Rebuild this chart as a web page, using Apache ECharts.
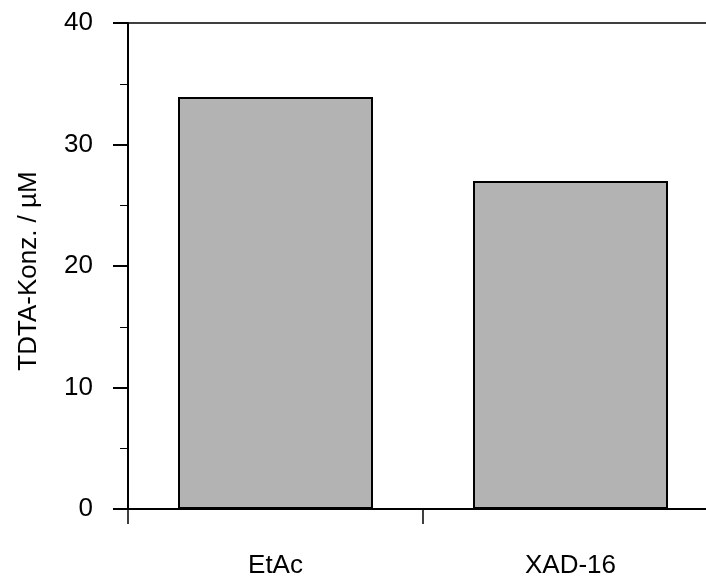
<!DOCTYPE html>
<html>
<head>
<meta charset="utf-8">
<script src="https://cdn.jsdelivr.net/npm/echarts@6/dist/echarts.min.js"></script>
<style>
  html, body { margin: 0; padding: 0; background: #fff; overflow: hidden; }
  /* the plot area runs slightly past the right edge of the window */
  #chart { width: 718px; height: 581px; }
</style>
</head>
<body>
<div id="chart"></div>
<script>
// Extraction methods and the measured TDTA concentration for each
const categories = ['EtAc', 'XAD-16'];
const concentrations = [33.9, 27.0];
const yAxisTitle = 'TDTA-Konz. / µM';

const FONT = 'Liberation Sans, Arial, sans-serif';
const chart = echarts.init(document.getElementById('chart'));

chart.setOption({
  animation: false,
  backgroundColor: '#ffffff',
  grid: { left: 128, right: 0, top: 23, bottom: 72 },
  xAxis: [
    {
      type: 'category',
      data: categories,
      position: 'bottom',
      boundaryGap: true,
      axisLine: { show: true, lineStyle: { color: '#000', width: 2 } },
      axisTick: { show: true, interval: 0, length: 15, lineStyle: { color: '#000', width: 1.5 } },
      axisLabel: { margin: 44, fontSize: 26, color: '#000', fontFamily: FONT },
      splitLine: { show: false }
    },
    {
      // plain frame line along the top of the plot
      type: 'category',
      data: categories,
      position: 'top',
      axisLine: { show: true, lineStyle: { color: '#000', width: 1.5 } },
      axisTick: { show: false },
      axisLabel: { show: false },
      splitLine: { show: false }
    }
  ],
  yAxis: {
    type: 'value',
    min: 0,
    max: 40,
    interval: 10,
    name: yAxisTitle,
    nameLocation: 'middle',
    nameGap: 86,
    nameTextStyle: { fontSize: 26, color: '#000', fontFamily: FONT, padding: [0, 10, 0, 0] },
    axisLine: { show: true, lineStyle: { color: '#000', width: 2 } },
    axisTick: { show: true, length: 15, lineStyle: { color: '#000', width: 2 } },
    minorTick: { show: true, splitNumber: 2, length: 8, lineStyle: { color: '#000', width: 1 } },
    axisLabel: { margin: 35, fontSize: 26, color: '#000', fontFamily: FONT },
    splitLine: { show: false }
  },
  series: [
    {
      type: 'bar',
      data: concentrations,
      barWidth: 195,
      itemStyle: { color: '#b3b3b3', borderColor: '#000', borderWidth: 2 }
    }
  ]
});
</script>
</body>
</html>
